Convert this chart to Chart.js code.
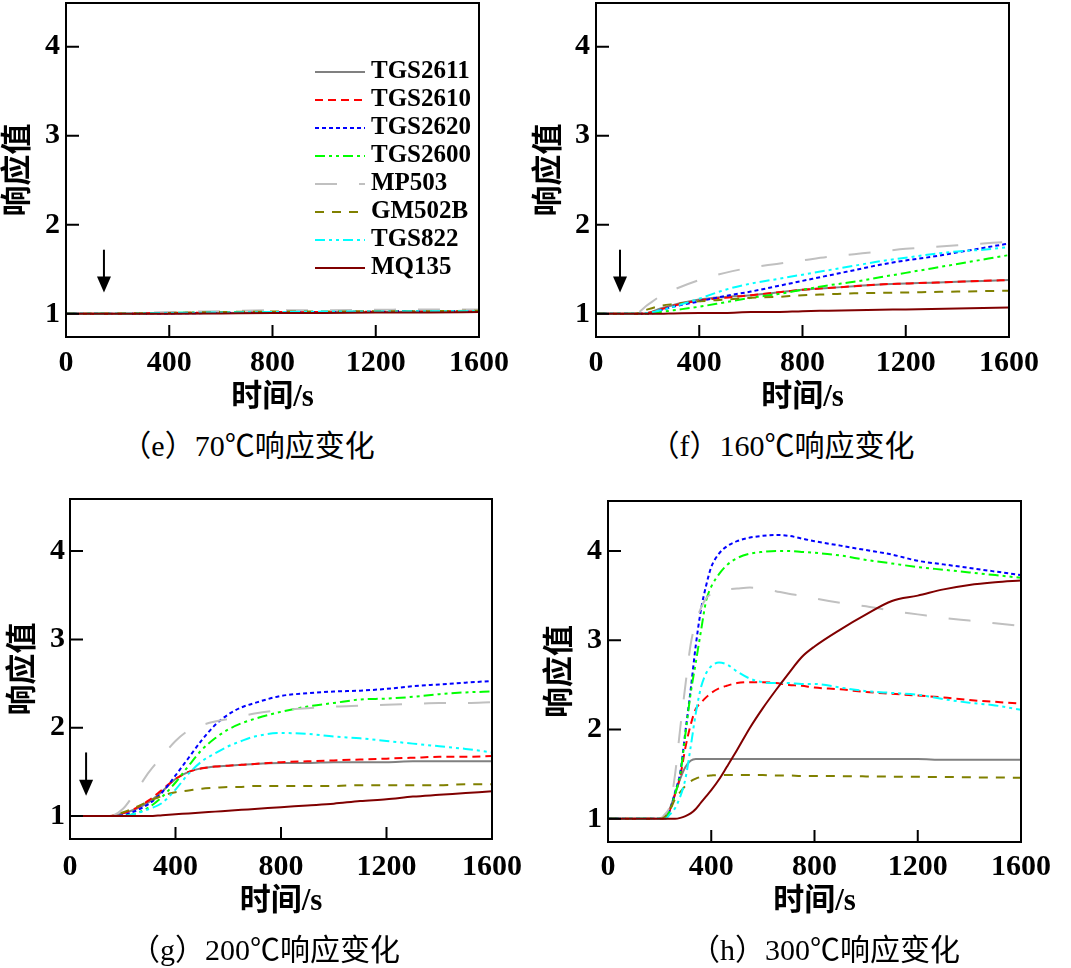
<!DOCTYPE html>
<html>
<head>
<meta charset="utf-8">
<script src="https://cdn.jsdelivr.net/npm/chart.js@4.4.1/dist/chart.umd.min.js"></script>
<style>
  body { margin: 0; background: #fff; width: 1071px; height: 968px; position: relative; overflow: hidden; }
  canvas { position: absolute; }
  .cap { position: absolute; font: 30px "Liberation Serif", "Noto Sans CJK SC"; color: #000;
         transform: translate(-50%, -50%); white-space: nowrap; }
</style>
</head>
<body>
<canvas id="ce" width="535" height="420" style="left:0;top:0"></canvas>
<canvas id="cf" width="535" height="420" style="left:530px;top:0"></canvas>
<canvas id="cg" width="540" height="440" style="left:0;top:490px"></canvas>
<canvas id="ch" width="541" height="440" style="left:530px;top:490px"></canvas>
<div class="cap" style="left:248px;top:443px">（e）70℃响应变化</div>
<div class="cap" style="left:782px;top:443px">（f）160℃响应变化</div>
<div class="cap" style="left:265px;top:947px">（g）200℃响应变化</div>
<div class="cap" style="left:825px;top:947px">（h）300℃响应变化</div>
<script>
// sensors and tick labels
const sensors = ['TGS2611', 'TGS2610', 'TGS2620', 'TGS2600', 'MP503', 'GM502B', 'TGS822', 'MQ135'];
const xTicks = [0, 400, 800, 1200, 1600];
const yTicks = [1, 2, 3, 4];

// (e) 70℃
const tE = [0, 200, 400, 600, 800, 1000, 1200, 1400, 1600];
const e_TGS2611 = [1, 1, 1.005, 1.01, 1.015, 1.02, 1.02, 1.025, 1.03];
const e_TGS2610 = [1, 1, 1.01, 1.015, 1.02, 1.02, 1.025, 1.03, 1.03];
const e_TGS2620 = [1, 1, 1.005, 1.01, 1.015, 1.02, 1.025, 1.03, 1.03];
const e_TGS2600 = [1, 1, 1.01, 1.015, 1.02, 1.02, 1.025, 1.025, 1.03];
const e_MP503 = [1, 1.005, 1.02, 1.03, 1.04, 1.04, 1.045, 1.05, 1.05];
const e_GM502B = [1, 1.005, 1.01, 1.02, 1.025, 1.025, 1.03, 1.03, 1.035];
const e_TGS822 = [1, 1, 1.01, 1.015, 1.02, 1.025, 1.025, 1.03, 1.03];
const e_MQ135 = [1, 1, 1, 1.005, 1.01, 1.01, 1.015, 1.015, 1.02];

// (f) 160℃
const tF = [0, 150, 200, 250, 300, 400, 500, 600, 700, 800, 900, 1000, 1100, 1200, 1300, 1400, 1500, 1600];
const f_TGS2611 = [1, 1, 1.01, 1.06, 1.1, 1.16, 1.19, 1.21, 1.24, 1.27, 1.29, 1.31, 1.33, 1.34, 1.35, 1.36, 1.37, 1.38];
const f_TGS2610 = [1, 1, 1.01, 1.05, 1.09, 1.15, 1.18, 1.21, 1.24, 1.27, 1.29, 1.31, 1.33, 1.34, 1.35, 1.36, 1.37, 1.38];
const f_TGS2620 = [1, 1, 1.0, 1.04, 1.08, 1.14, 1.2, 1.25, 1.31, 1.37, 1.43, 1.49, 1.55, 1.6, 1.64, 1.69, 1.74, 1.79];
const f_TGS2600 = [1, 1, 1, 1.02, 1.04, 1.08, 1.13, 1.18, 1.22, 1.27, 1.32, 1.36, 1.41, 1.46, 1.51, 1.56, 1.61, 1.66];
const f_MP503 = [1, 1, 1.1, 1.2, 1.27, 1.38, 1.46, 1.52, 1.56, 1.6, 1.64, 1.67, 1.7, 1.73, 1.75, 1.77, 1.79, 1.81];
const f_GM502B = [1, 1, 1.05, 1.09, 1.11, 1.14, 1.16, 1.18, 1.19, 1.21, 1.22, 1.23, 1.235, 1.24, 1.245, 1.25, 1.255, 1.26];
const f_TGS822 = [1, 1, 1.01, 1.04, 1.08, 1.17, 1.27, 1.34, 1.39, 1.44, 1.49, 1.54, 1.59, 1.63, 1.67, 1.7, 1.72, 1.75];
const f_MQ135 = [1, 1, 1, 1, 1.005, 1.01, 1.01, 1.02, 1.02, 1.03, 1.035, 1.04, 1.045, 1.05, 1.055, 1.06, 1.065, 1.07];

// (g) 200℃
const tG = [0, 150, 200, 250, 300, 350, 400, 450, 500, 550, 600, 650, 700, 800, 900, 1000, 1100, 1200, 1300, 1400, 1500, 1600];
const g_TGS2611 = [1, 1, 1.03, 1.08, 1.16, 1.28, 1.42, 1.5, 1.54, 1.56, 1.57, 1.58, 1.59, 1.6, 1.6, 1.61, 1.61, 1.61, 1.62, 1.62, 1.62, 1.62];
const g_TGS2610 = [1, 1, 1.03, 1.09, 1.18, 1.3, 1.42, 1.5, 1.54, 1.56, 1.57, 1.58, 1.59, 1.61, 1.62, 1.63, 1.64, 1.65, 1.66, 1.67, 1.67, 1.68];
const g_TGS2620 = [1, 1, 1.01, 1.06, 1.14, 1.27, 1.46, 1.66, 1.86, 2.03, 2.15, 2.23, 2.28, 2.36, 2.39, 2.41, 2.42, 2.44, 2.47, 2.49, 2.51, 2.53];
const g_TGS2600 = [1, 1, 1.0, 1.03, 1.1, 1.22, 1.38, 1.57, 1.75, 1.88, 1.98, 2.05, 2.1, 2.18, 2.24, 2.28, 2.32, 2.33, 2.35, 2.38, 2.4, 2.41];
const g_MP503 = [1, 1, 1.08, 1.28, 1.5, 1.68, 1.85, 1.97, 2.03, 2.07, 2.1, 2.13, 2.16, 2.2, 2.22, 2.24, 2.25, 2.26, 2.27, 2.28, 2.28, 2.29];
const g_GM502B = [1, 1, 1.04, 1.1, 1.17, 1.23, 1.27, 1.29, 1.31, 1.32, 1.33, 1.33, 1.34, 1.34, 1.34, 1.34, 1.35, 1.35, 1.35, 1.35, 1.36, 1.36];
const g_TGS822 = [1, 1, 1.0, 1.03, 1.08, 1.15, 1.3, 1.48, 1.62, 1.71, 1.79, 1.85, 1.9, 1.94, 1.93, 1.9, 1.88, 1.85, 1.82, 1.79, 1.76, 1.72];
const g_MQ135 = [1, 1, 1, 1, 1, 1.01, 1.02, 1.03, 1.04, 1.05, 1.06, 1.07, 1.08, 1.1, 1.12, 1.14, 1.17, 1.19, 1.22, 1.24, 1.26, 1.28];

// (h) 300℃
const tH = [0, 200, 220, 240, 260, 280, 300, 320, 340, 360, 380, 400, 430, 460, 500, 550, 600, 650, 700, 750, 800, 900, 1000, 1100, 1200, 1300, 1400, 1500, 1600];
const h_TGS2611 = [1, 1, 1.02, 1.12, 1.28, 1.45, 1.58, 1.65, 1.67, 1.67, 1.67, 1.67, 1.67, 1.67, 1.67, 1.67, 1.67, 1.67, 1.67, 1.67, 1.67, 1.67, 1.67, 1.67, 1.67, 1.66, 1.66, 1.66, 1.66];
const h_TGS2610 = [1, 1, 1.0, 1.1, 1.28, 1.48, 1.8, 2.05, 2.23, 2.3, 2.36, 2.41, 2.46, 2.49, 2.52, 2.53, 2.53, 2.52, 2.5, 2.49, 2.47, 2.45, 2.42, 2.4, 2.38, 2.36, 2.33, 2.31, 2.29];
const h_TGS2620 = [1, 1, 1.0, 1.1, 1.3, 1.52, 1.98, 2.44, 2.94, 3.34, 3.61, 3.82, 3.97, 4.05, 4.11, 4.15, 4.17, 4.18, 4.17, 4.14, 4.11, 4.06, 4.01, 3.96, 3.89, 3.85, 3.81, 3.77, 3.73];
const h_TGS2600 = [1, 1, 1.0, 1.1, 1.28, 1.5, 1.95, 2.4, 2.75, 3.1, 3.44, 3.6, 3.74, 3.84, 3.92, 3.97, 3.99, 4.0, 4.0, 3.99, 3.98, 3.95, 3.9, 3.86, 3.82, 3.79, 3.76, 3.73, 3.7];
const h_MP503 = [1, 1, 1.05, 1.15, 1.5, 2.02, 2.5, 2.95, 3.2, 3.36, 3.47, 3.52, 3.56, 3.57, 3.58, 3.59, 3.58, 3.55, 3.52, 3.5, 3.47, 3.42, 3.38, 3.33, 3.29, 3.25, 3.22, 3.19, 3.16];
const h_GM502B = [1, 1, 1.02, 1.1, 1.22, 1.3, 1.37, 1.42, 1.45, 1.47, 1.48, 1.485, 1.49, 1.49, 1.49, 1.49, 1.49, 1.485, 1.485, 1.48, 1.48, 1.478, 1.475, 1.472, 1.47, 1.468, 1.465, 1.462, 1.46];
const h_TGS822 = [1, 1, 1, 1.05, 1.12, 1.25, 1.45, 1.8, 2.18, 2.47, 2.63, 2.71, 2.75, 2.73, 2.65, 2.57, 2.53, 2.52, 2.52, 2.51, 2.51, 2.47, 2.43, 2.41, 2.39, 2.34, 2.3, 2.27, 2.22];
const h_MQ135 = [1, 1, 1, 1, 1, 1.01, 1.03, 1.06, 1.11, 1.18, 1.25, 1.32, 1.44, 1.58, 1.77, 2.02, 2.24, 2.44, 2.63, 2.81, 2.93, 3.12, 3.29, 3.44, 3.5, 3.57, 3.62, 3.65, 3.67];

// gas-injection arrows: [time, top value, tip value]
const arrowE = [147, 1.72, 1.24];
const arrowF = [93, 1.72, 1.24];
const arrowG = [61, 1.72, 1.23];

const lineColors = ['#808080', '#ff0000', '#0000ff', '#00ff00', '#c0c0c0', '#808000', '#00ffff', '#800000'];
const lineDashes = [[], [8, 5], [4, 3], [10, 4, 3, 4, 3, 4], [22, 22], [9, 8], [10, 4, 3, 4, 3, 4], []];

const serif = '"Liberation Serif", "Noto Sans CJK SC"';

// box + inward ticks
const framePlugin = {
  id: 'frame',
  afterDraw(chart) {
    const { ctx, chartArea: a, scales: { x, y } } = chart;
    ctx.save();
    ctx.strokeStyle = '#000';
    ctx.lineWidth = 2;
    ctx.strokeRect(a.left, a.top, a.right - a.left, a.bottom - a.top);
    ctx.beginPath();
    yTicks.forEach(v => { const p = y.getPixelForValue(v); ctx.moveTo(a.left, p); ctx.lineTo(a.left + 13, p); });
    xTicks.forEach(v => { const p = x.getPixelForValue(v); ctx.moveTo(p, a.bottom); ctx.lineTo(p, a.bottom - 12); });
    ctx.stroke();
    ctx.restore();
  }
};

const arrowPlugin = {
  id: 'arrow',
  afterDatasetsDraw(chart, args, opts) {
    if (!opts.at) return;
    const { ctx, scales: { x, y } } = chart;
    const px = x.getPixelForValue(opts.at[0]);
    const top = y.getPixelForValue(opts.at[1]);
    const tip = y.getPixelForValue(opts.at[2]);
    ctx.save();
    ctx.strokeStyle = '#000';
    ctx.fillStyle = '#000';
    ctx.lineWidth = 2;
    ctx.beginPath();
    ctx.moveTo(px, top);
    ctx.lineTo(px, tip - 10);
    ctx.stroke();
    ctx.beginPath();
    ctx.moveTo(px - 7, tip - 16);
    ctx.lineTo(px + 7, tip - 16);
    ctx.lineTo(px, tip);
    ctx.closePath();
    ctx.fill();
    ctx.restore();
  }
};

// legend drawn inside the plot of panel (e)
const innerLegend = {
  id: 'innerLegend',
  afterDraw(chart) {
    const { ctx, chartArea } = chart;
    const x0 = chartArea.left + 249, y0 = chartArea.top + 69;
    ctx.save();
    ctx.font = 'bold 25px ' + serif;
    ctx.textBaseline = 'middle';
    chart.data.datasets.forEach((ds, i) => {
      const yy = y0 + i * 28;
      ctx.strokeStyle = ds.borderColor;
      ctx.lineWidth = 2;
      ctx.setLineDash(ds.borderDash);
      ctx.beginPath();
      ctx.moveTo(x0, yy);
      ctx.lineTo(x0 + 50, yy);
      ctx.stroke();
      ctx.setLineDash([]);
      ctx.fillStyle = '#000';
      ctx.fillText(ds.label, x0 + 56, yy);
    });
    ctx.restore();
  }
};

function makePanel(id, times, series, c) {
  const plugins = [framePlugin, arrowPlugin];
  if (c.legend) plugins.push(innerLegend);
  return new Chart(document.getElementById(id), {
    type: 'line',
    data: {
      datasets: sensors.map((name, i) => ({
        label: name,
        data: times.map((t, j) => ({ x: t, y: series[i][j] })),
        borderColor: lineColors[i],
        borderDash: lineDashes[i],
        borderWidth: 2,
        pointRadius: 0,
        fill: false,
        cubicInterpolationMode: 'monotone',
        order: sensors.length - i
      }))
    },
    options: {
      responsive: false,
      animation: false,
      layout: { padding: c.pad },
      plugins: {
        legend: { display: false },
        tooltip: { enabled: false },
        arrow: { at: c.arrow }
      },
      scales: {
        x: {
          type: 'linear', min: 0, max: 1600,
          afterBuildTicks: s => { s.ticks = xTicks.map(v => ({ value: v })); },
          afterFit: s => { s.height = c.xH; s.paddingLeft = 0; s.paddingRight = 0; },
          grid: { display: false, drawTicks: false },
          border: { display: false },
          ticks: { padding: c.xTickPad, color: '#000', maxRotation: 0, autoSkip: false,
                   font: { family: serif, size: 30, weight: 'bold' }, callback: v => String(v) },
          title: { display: true, text: '时间/s', color: '#000',
                   font: { family: serif, size: 31, weight: 'bold' }, padding: { top: 0, bottom: c.xTitlePad } }
        },
        y: {
          min: 0.74, max: c.yMax,
          afterBuildTicks: s => { s.ticks = yTicks.map(v => ({ value: v })); },
          afterFit: s => { s.width = c.yW; s.paddingTop = 0; s.paddingBottom = 0; },
          grid: { display: false, drawTicks: false },
          border: { display: false },
          ticks: { padding: c.yTickPad, color: '#000',
                   font: { family: serif, size: 30, weight: 'bold' }, callback: v => String(v) },
          title: { display: true, text: '响应值', color: '#000',
                   font: { family: serif, size: 31, weight: 'bold' }, padding: { top: c.yTitlePad, bottom: 0 } }
        }
      }
    },
    plugins: plugins
  });
}

makePanel('ce', tE,
  [e_TGS2611, e_TGS2610, e_TGS2620, e_TGS2600, e_MP503, e_GM502B, e_TGS822, e_MQ135],
  { pad: { left: 0, right: 56, top: 3, bottom: 0 }, yW: 66, xH: 83, yMax: 4.49,
    xTickPad: 8, xTitlePad: 3, yTickPad: 6, yTitlePad: 0, arrow: arrowE, legend: true });

makePanel('cf', tF,
  [f_TGS2611, f_TGS2610, f_TGS2620, f_TGS2600, f_MP503, f_GM502B, f_TGS822, f_MQ135],
  { pad: { left: 0, right: 56, top: 3, bottom: 0 }, yW: 66, xH: 83, yMax: 4.49,
    xTickPad: 8, xTitlePad: 3, yTickPad: 6, yTitlePad: 1, arrow: arrowF });

makePanel('cg', tG,
  [g_TGS2611, g_TGS2610, g_TGS2620, g_TGS2600, g_MP503, g_GM502B, g_TGS822, g_MQ135],
  { pad: { left: 0, right: 48, top: 9, bottom: 0 }, yW: 70, xH: 91, yMax: 4.59,
    xTickPad: 10, xTitlePad: 9, yTickPad: 5, yTitlePad: 5, arrow: arrowG });

makePanel('ch', tH,
  [h_TGS2611, h_TGS2610, h_TGS2620, h_TGS2600, h_MP503, h_GM502B, h_TGS822, h_MQ135],
  { pad: { left: 0, right: 50, top: 11, bottom: 0 }, yW: 78, xH: 88, yMax: 4.56,
    xTickPad: 7, xTitlePad: 9, yTickPad: 6, yTitlePad: 12, arrow: null });
</script>
</body>
</html>
